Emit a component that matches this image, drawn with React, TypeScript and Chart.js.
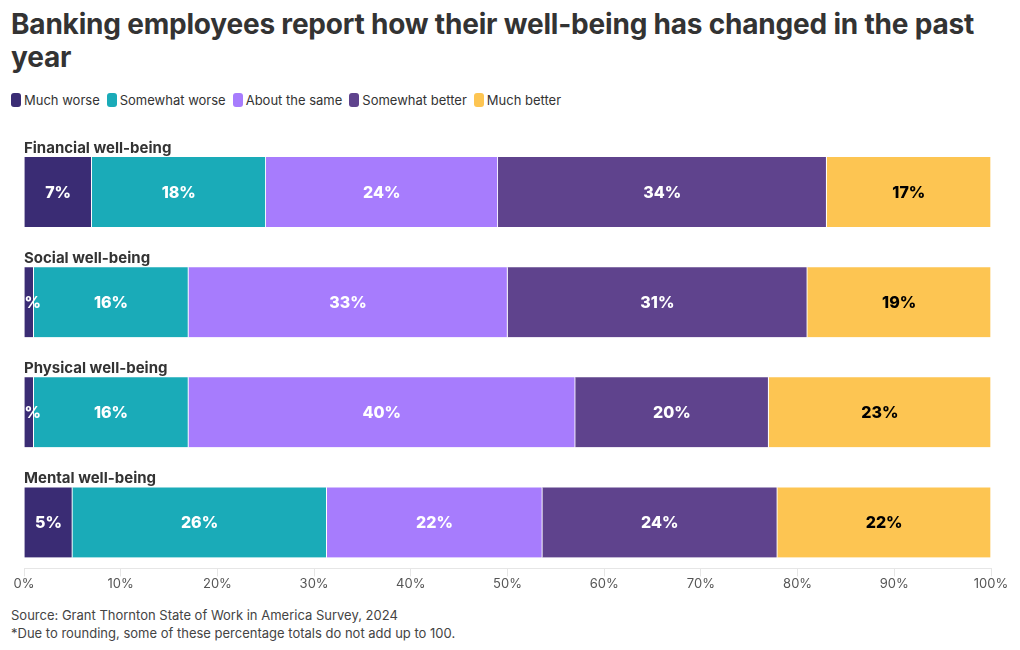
import React, { useEffect, useRef } from "react";
import { Chart, registerables } from "chart.js";

Chart.register(...registerables);

const categories = ["Financial well-being", "Social well-being", "Physical well-being", "Mental well-being"];
const seriesNames = ["Much worse", "Somewhat worse", "About the same", "Somewhat better", "Much better"];
const seriesColors = ["#3A2C74", "#1AABB8", "#A77CFD", "#5F438D", "#FDC552"];
const labelColors = ["#FFFFFF", "#FFFFFF", "#FFFFFF", "#FFFFFF", "#000000"];

const muchWorse = [7, 1, 1, 5];
const somewhatWorse = [18, 16, 16, 26.3];
const aboutTheSame = [24, 33, 40, 22.3];
const somewhatBetter = [34, 31, 20, 24.3];
const muchBetter = [17, 19, 23, 22.1];

const seriesValues = [muchWorse, somewhatWorse, aboutTheSame, somewhatBetter, muchBetter];
const xTicks = [0, 10, 20, 30, 40, 50, 60, 70, 80, 90, 100];

const FONT = "Inter, 'Noto Sans', sans-serif";

const labelPlugin = {
  id: "segmentLabels",
  afterDatasetsDraw(chart: any) {
    const { ctx, chartArea } = chart;
    ctx.save();
    ctx.beginPath();
    ctx.rect(chartArea.left, chartArea.top - 40, chartArea.right - chartArea.left, chartArea.bottom - chartArea.top + 40);
    ctx.clip();
    ctx.font = `800 16px ${FONT}`;
    ctx.textAlign = "center";
    ctx.textBaseline = "middle";
    chart.data.datasets.forEach((ds: any, di: number) => {
      const meta = chart.getDatasetMeta(di);
      meta.data.forEach((el: any, i: number) => {
        const v = ds.data[i].x;
        const cx = (el.x + el.base) / 2;
        ctx.fillStyle = labelColors[di];
        ctx.fillText(Math.round(v) + "%", cx, el.y + 1);
      });
    });
    ctx.restore();
    // category labels above bars
    ctx.save();
    ctx.font = `700 15px ${FONT}`;
    ctx.fillStyle = "#333333";
    ctx.textAlign = "left";
    ctx.textBaseline = "alphabetic";
    const yScale = chart.scales.y;
    categories.forEach((c, i) => {
      const y = yScale.getPixelForValue(i) - 35 - 4;
      ctx.fillText(c, chartArea.left, y);
    });
    ctx.restore();
  },
};

export default function App() {
  const ref = useRef<HTMLCanvasElement | null>(null);

  useEffect(() => {
    if (!ref.current) return;
    const datasets = seriesNames.map((name, si) => ({
      label: name,
      data: seriesValues[si].map((v, i) => ({ x: v, y: i })),
      backgroundColor: seriesColors[si],
      borderColor: "#FFFFFF",
      borderWidth: { left: 0, right: 1, top: 0, bottom: 0 },
      borderSkipped: false,
      barThickness: 70,
    }));
    const chart = new Chart(ref.current, {
      type: "bar",
      data: { datasets },
      plugins: [labelPlugin],
      options: {
        indexAxis: "y",
        animation: false,
        responsive: false,
        events: [],
        layout: { padding: { left: 16, right: 21, top: 9, bottom: 6 } },
        plugins: {
          legend: { display: false },
          tooltip: { enabled: false },
          title: { display: false },
        },
        scales: {
          y: {
            type: "linear",
            stacked: true,
            reverse: true,
            offset: false,
            min: -0.5,
            max: 3.418,
            display: false,
            grid: { offset: false },
          },
          x: {
            type: "linear",
            stacked: true,
            min: 0,
            max: 100,
            afterBuildTicks: (axis: any) => {
              axis.ticks = xTicks.map((v) => ({ value: v }));
            },
            grid: {
              drawOnChartArea: false,
              drawTicks: true,
              tickLength: 8,
              color: "#E6E6E6",
            },
            border: { display: true, color: "#E6E6E6" },
            ticks: {
              padding: 0,
              color: "#555555",
              font: { family: FONT, size: 13 },
              callback: (v: any) => v + "%",
              maxRotation: 0,
              autoSkip: false,
            },
          },
        },
      } as any,
    });
    return () => chart.destroy();
  }, []);

  return (
    <div style={{ position: "relative", width: 1004, height: 634, fontFamily: FONT, color: "#333" }}>
      <div
        style={{
          position: "absolute",
          left: 3,
          top: 0,
          width: 985,
          fontSize: 28,
          fontWeight: 700,
          lineHeight: "33px",
          color: "#333333",
          letterSpacing: -0.2,
        }}
      >
        Banking employees report how their well-being has changed in the past year
      </div>
      <div
        style={{
          position: "absolute",
          left: 3,
          top: 84,
          display: "flex",
          alignItems: "center",
          fontSize: 13,
          lineHeight: "16px",
          color: "#333333",
        }}
      >
        {seriesNames.map((n, i) => (
          <div key={n} style={{ display: "flex", alignItems: "center", marginRight: 7 }}>
            <span
              style={{
                display: "inline-block",
                width: 10,
                height: 14,
                borderRadius: 3,
                background: seriesColors[i],
                marginRight: 3,
              }}
            />
            <span>{n}</span>
          </div>
        ))}
      </div>
      <canvas ref={ref} width={1004} height={470} style={{ position: "absolute", left: 0, top: 120, width: 1004, height: 470 }} />
      <div style={{ position: "absolute", left: 3, top: 598, fontSize: 13, lineHeight: "18px", color: "#444444" }}>
        <div>Source: Grant Thornton State of Work in America Survey, 2024</div>
        <div>*Due to rounding, some of these percentage totals do not add up to 100.</div>
      </div>
    </div>
  );
}
